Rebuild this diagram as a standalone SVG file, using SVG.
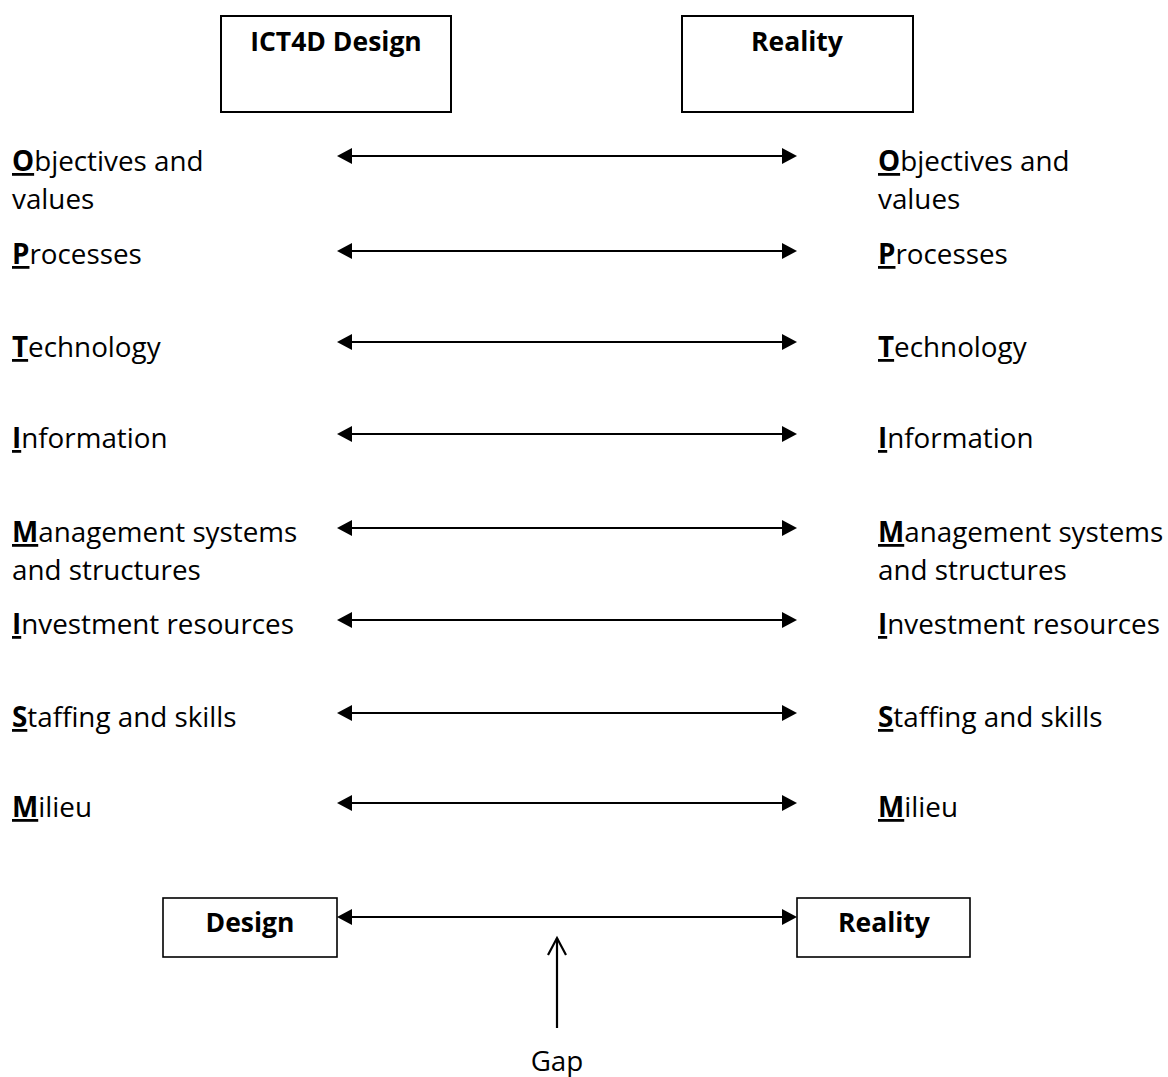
<svg xmlns="http://www.w3.org/2000/svg" width="1168" height="1077" viewBox="0 0 1168 1077">
<style>
text{font-family:"Open Sans","Noto Sans",sans-serif;fill:#000;}
.lbl{font-size:27.8px;}
.hd{font-size:26.5px;font-weight:bold;}
.k{font-weight:bold;text-decoration:underline;}
.box{fill:#fff;stroke:#000;stroke-width:2;}
.conn{stroke:#000;stroke-width:2.2;fill:none;}
</style>
<defs>
<marker id="ah" markerUnits="userSpaceOnUse" viewBox="0 0 15 16" markerWidth="15" markerHeight="16" refX="12" refY="8" orient="auto-start-reverse">
<path d="M0,0 L15,8 L0,16 z" fill="#000"/>
</marker>
</defs>
<rect width="1168" height="1077" fill="#fff"/>

<g id="hdr-design"><rect class="box" x="221" y="16" width="230" height="96"/><text class="hd" x="336" y="51" text-anchor="middle">ICT4D Design</text></g>
<g id="hdr-reality"><rect class="box" x="682" y="16" width="231" height="96"/><text class="hd" x="797" y="51" text-anchor="middle">Reality</text></g>

<g id="l-objectives"><text class="lbl" x="12" y="171"><tspan class="k">O</tspan>bjectives and</text><text class="lbl" x="12" y="209">values</text></g>
<g id="r-objectives"><text class="lbl" x="878" y="171"><tspan class="k">O</tspan>bjectives and</text><text class="lbl" x="878" y="209">values</text></g>
<g id="l-processes"><text class="lbl" x="12" y="264"><tspan class="k">P</tspan>rocesses</text></g>
<g id="r-processes"><text class="lbl" x="878" y="264"><tspan class="k">P</tspan>rocesses</text></g>
<g id="l-technology"><text class="lbl" x="12" y="357"><tspan class="k">T</tspan>echnology</text></g>
<g id="r-technology"><text class="lbl" x="878" y="357"><tspan class="k">T</tspan>echnology</text></g>
<g id="l-information"><text class="lbl" x="12" y="448"><tspan class="k">I</tspan>nformation</text></g>
<g id="r-information"><text class="lbl" x="878" y="448"><tspan class="k">I</tspan>nformation</text></g>
<g id="l-management"><text class="lbl" x="12" y="542"><tspan class="k">M</tspan>anagement systems</text><text class="lbl" x="12" y="580">and structures</text></g>
<g id="r-management"><text class="lbl" x="878" y="542"><tspan class="k">M</tspan>anagement systems</text><text class="lbl" x="878" y="580">and structures</text></g>
<g id="l-investment"><text class="lbl" x="12" y="634"><tspan class="k">I</tspan>nvestment resources</text></g>
<g id="r-investment"><text class="lbl" x="878" y="634"><tspan class="k">I</tspan>nvestment resources</text></g>
<g id="l-staffing"><text class="lbl" x="12" y="727"><tspan class="k">S</tspan>taffing and skills</text></g>
<g id="r-staffing"><text class="lbl" x="878" y="727"><tspan class="k">S</tspan>taffing and skills</text></g>
<g id="l-milieu"><text class="lbl" x="12" y="817"><tspan class="k">M</tspan>ilieu</text></g>
<g id="r-milieu"><text class="lbl" x="878" y="817"><tspan class="k">M</tspan>ilieu</text></g>

<g id="box-design"><rect class="box" x="163" y="898" width="174" height="59" style="stroke-width:1.6"/><text class="hd" x="250" y="932" text-anchor="middle">Design</text></g>
<g id="box-reality"><rect class="box" x="797" y="898" width="173" height="59" style="stroke-width:1.6"/><text class="hd" x="884" y="932" text-anchor="middle">Reality</text></g>
<g id="gap"><text class="lbl" x="557" y="1071" text-anchor="middle">Gap</text></g>

<g id="connectors">
<line class="conn" x1="340" y1="156" x2="794" y2="156" marker-start="url(#ah)" marker-end="url(#ah)"/>
<line class="conn" x1="340" y1="251" x2="794" y2="251" marker-start="url(#ah)" marker-end="url(#ah)"/>
<line class="conn" x1="340" y1="342" x2="794" y2="342" marker-start="url(#ah)" marker-end="url(#ah)"/>
<line class="conn" x1="340" y1="434" x2="794" y2="434" marker-start="url(#ah)" marker-end="url(#ah)"/>
<line class="conn" x1="340" y1="528" x2="794" y2="528" marker-start="url(#ah)" marker-end="url(#ah)"/>
<line class="conn" x1="340" y1="620" x2="794" y2="620" marker-start="url(#ah)" marker-end="url(#ah)"/>
<line class="conn" x1="340" y1="713" x2="794" y2="713" marker-start="url(#ah)" marker-end="url(#ah)"/>
<line class="conn" x1="340" y1="803" x2="794" y2="803" marker-start="url(#ah)" marker-end="url(#ah)"/>
<line class="conn" x1="340" y1="917" x2="794" y2="917" marker-start="url(#ah)" marker-end="url(#ah)"/>
<line class="conn" x1="557" y1="1028" x2="557" y2="938"/>
<path class="conn" d="M548,955 L557,938 L566,955"/>
</g>
</svg>
